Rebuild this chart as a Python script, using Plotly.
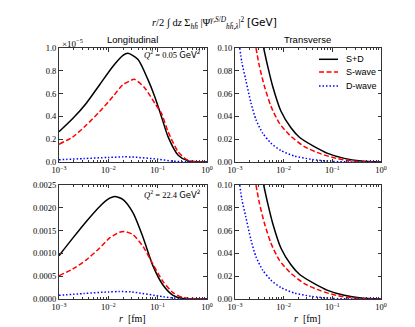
import plotly.graph_objects as go

# ---- data (r in fm) ----
# longitudinal, Q^2 = 0.05 GeV^2 (values in units of 1e-5 GeV)
lt_sd_r = [0.001, 0.00192, 0.00358, 0.00667, 0.01245, 0.0198, 0.025, 0.04, 0.0639, 0.087, 0.119, 0.163, 0.26, 0.414, 1.0]
lt_sd = [0.265, 0.383, 0.516, 0.678, 0.84, 0.935, 0.953, 0.90, 0.72, 0.575, 0.40, 0.22, 0.06, 0.01, 0.0]
lt_s_r = [0.001, 0.00192, 0.00358, 0.00667, 0.01245, 0.0198, 0.0316, 0.0343, 0.0547, 0.087, 0.119, 0.163, 0.26, 0.414, 1.0]
lt_s = [0.156, 0.221, 0.324, 0.442, 0.575, 0.678, 0.723, 0.725, 0.65, 0.516, 0.428, 0.265, 0.09, 0.015, 0.0]
lt_d_r = [0.001, 0.00316, 0.01, 0.02, 0.03, 0.1, 0.2, 0.4, 1.0]
lt_d = [0.02, 0.03, 0.04, 0.045, 0.044, 0.025, 0.008, 0.001, 0.0]

# longitudinal, Q^2 = 22.4 GeV^2
lb_sd_r = [0.001, 0.00192, 0.00358, 0.00668, 0.01066, 0.0135, 0.0199, 0.0317, 0.0506, 0.0807, 0.129, 0.205, 0.327, 1.0]
lb_sd = [0.00095, 0.00134, 0.0017, 0.00203, 0.00221, 0.00225, 0.00218, 0.00189, 0.00135, 0.00072, 0.0003, 0.00008, 0.00001, 0.0]
lb_s_r = [0.001, 0.00192, 0.00358, 0.00668, 0.01066, 0.0165, 0.0212, 0.0317, 0.0506, 0.0807, 0.129, 0.205, 0.327, 1.0]
lb_s = [0.00051, 0.00066, 0.00086, 0.00112, 0.00134, 0.00146, 0.00148, 0.00141, 0.00115, 0.00076, 0.00038, 0.00014, 0.00003, 0.0]
lb_d_r = [0.001, 0.00316, 0.01, 0.0165, 0.03, 0.129, 0.327, 1.0]
lb_d = [0.00008, 0.00012, 0.000155, 0.000163, 0.000155, 0.00005, 0.0, 0.0]

# transverse (same for both Q^2 panels)
tr_sd_r = [0.00388, 0.00469, 0.00594, 0.00881, 0.0141, 0.0213, 0.0427, 0.0801, 0.176, 0.389, 1.0]
tr_sd = [0.100, 0.0841, 0.0665, 0.0445, 0.030, 0.0215, 0.0135, 0.0076, 0.0032, 0.0009, 0.0]
tr_s_r = [0.0027, 0.00317, 0.00402, 0.0055, 0.00815, 0.0131, 0.0266, 0.0585, 0.1285, 0.331, 1.0]
tr_s = [0.100, 0.0841, 0.0665, 0.0488, 0.0341, 0.0238, 0.0135, 0.0071, 0.0029, 0.0006, 0.0]
tr_d_r = [0.00125, 0.00139, 0.00166, 0.00213, 0.0027, 0.00371, 0.0055, 0.00881, 0.0166, 0.0363, 0.0933, 0.3, 1.0]
tr_d = [0.100, 0.087, 0.0723, 0.0518, 0.0371, 0.0253, 0.0165, 0.010, 0.0053, 0.0024, 0.0006, 0.0, 0.0]

series_names = ["S+D", "S-wave", "D-wave"]
x_ticks = [0.001, 0.01, 0.1, 1]
x_ticktext = ["10<sup>−3</sup>", "10<sup>−2</sup>", "10<sup>−1</sup>", "10<sup>0</sup>"]

styles = [
    dict(color="black", width=1.5, dash="solid"),
    dict(color="#ff0000", width=1.5, dash="5px,2.5px"),
    dict(color="#0000ff", width=1.5, dash="1.5px,2px"),
]

fig = go.Figure()

panels = [
    ("x", "y", [(lt_sd_r, lt_sd), (lt_s_r, lt_s), (lt_d_r, lt_d)]),
    ("x2", "y2", [(tr_sd_r, tr_sd), (tr_s_r, tr_s), (tr_d_r, tr_d)]),
    ("x3", "y3", [(lb_sd_r, lb_sd), (lb_s_r, lb_s), (lb_d_r, lb_d)]),
    ("x4", "y4", [(tr_sd_r, tr_sd), (tr_s_r, tr_s), (tr_d_r, tr_d)]),
]
for xa, ya, curves in panels:
    for (rr, vv), name, st in zip(curves, series_names, styles):
        fig.add_trace(go.Scatter(
            x=rr, y=vv, name=name, mode="lines", xaxis=xa, yaxis=ya,
            line=dict(shape="spline", smoothing=0.7, **st), showlegend=False,
        ))

tick_font = dict(family="Liberation Serif", size=8.5, color="black")
frame = "#333333"
minor_vals = [m * 10 ** e for e in (-3, -2, -1) for m in range(2, 10)]

def xax(domain, anchor):
    return dict(
        type="log", range=[-3, 0], domain=domain, anchor=anchor,
        tickvals=x_ticks, ticktext=x_ticktext, tickfont=tick_font,
        ticks="inside", ticklen=3.5, tickcolor=frame, mirror="allticks",
        showline=True, linecolor=frame, linewidth=1, showgrid=False, zeroline=False,
        minor=dict(tickvals=minor_vals, ticks="inside", ticklen=2, tickcolor=frame, showgrid=False),
    )

def yax(domain, anchor, rng, dtick, fmt):
    return dict(
        range=rng, domain=domain, anchor=anchor, dtick=dtick, tick0=0, tickformat=fmt,
        tickfont=tick_font, ticks="inside", ticklen=3.5, tickcolor=frame, mirror="allticks",
        showline=True, linecolor=frame, linewidth=1, showgrid=False, zeroline=False,
    )

xl, xr = [0, 0.4596], [0.5466, 1]
yt, yb = [0.5458, 1], [0, 0.4542]

fig.update_layout(
    width=415, height=327,
    margin=dict(l=51, r=42, t=40, b=36),
    paper_bgcolor="white", plot_bgcolor="white",
    font=dict(color="black"),
    xaxis=xax(xl, "y"), yaxis=yax(yt, "x", [0, 1.0], 0.2, ".1f"),
    xaxis2=xax(xr, "y2"), yaxis2=yax(yt, "x2", [0, 0.10], 0.02, ".2f"),
    xaxis3=xax(xl, "y3"), yaxis3=yax(yb, "x3", [0, 0.0025], 0.0005, ".4f"),
    xaxis4=xax(xr, "y4"), yaxis4=yax(yb, "x4", [0, 0.10], 0.02, ".2f"),
)

serif = "Liberation Serif"
sans = "Liberation Sans"
ann = [
    dict(x=0.484, y=1.0996, xanchor="center", yanchor="middle",
         text="<i>r</i>/2 ∫ d<i>z</i> Σ<sub><i>h</i><i>h̄</i></sub> |Ψ<sup><i>γ</i>,<i>S</i>/<i>D</i></sup><sub><i>hh̄</i>,<i>λ</i></sub>|<sup>2</sup> "
              "<span style='font-family:DejaVu Sans'>[GeV]</span>",
         font=dict(family=serif, size=10.5)),
    dict(x=0.2298, y=1.032, xanchor="center", yanchor="middle", text="Longitudinal",
         font=dict(family=sans, size=9.5)),
    dict(x=0.773, y=1.032, xanchor="center", yanchor="middle", text="Transverse",
         font=dict(family=sans, size=9.5)),
    dict(x=0.004, y=1.02, xanchor="left", yanchor="middle", text="×10<sup>−5</sup>",
         font=dict(family=serif, size=9)),
    dict(x=0.447, y=0.978, xanchor="right", yanchor="middle",
         text="<i>Q</i><sup>2</sup> = 0.05 <span style='font-family:DejaVu Sans'>GeV<sup>2</sup></span>",
         font=dict(family=serif, size=8.5)),
    dict(x=0.447, y=0.420, xanchor="right", yanchor="middle",
         text="<i>Q</i><sup>2</sup> = 22.4 <span style='font-family:DejaVu Sans'>GeV<sup>2</sup></span>",
         font=dict(family=serif, size=8.5)),
    dict(x=0.2298, y=-0.077, xanchor="center", yanchor="middle", text="<i>r</i>  [fm]",
         font=dict(family=serif, size=10)),
    dict(x=0.773, y=-0.077, xanchor="center", yanchor="middle", text="<i>r</i>  [fm]",
         font=dict(family=serif, size=10)),
]

# legend drawn in the Transverse (top) panel
leg_y = [0.955, 0.904, 0.849]
for name, st, ly in zip(series_names, styles, leg_y):
    fig.add_shape(type="line", xref="paper", yref="paper", x0=0.8075, x1=0.8665, y0=ly, y1=ly,
                  line=dict(color=st["color"], width=st["width"], dash=st["dash"]))
    ann.append(dict(x=0.885, y=ly, xanchor="left", yanchor="middle", text=name,
                    font=dict(family=sans, size=9)))

for a in ann:
    a.update(xref="paper", yref="paper", showarrow=False)
fig.update_layout(annotations=ann)

fig.write_html("out.html")
